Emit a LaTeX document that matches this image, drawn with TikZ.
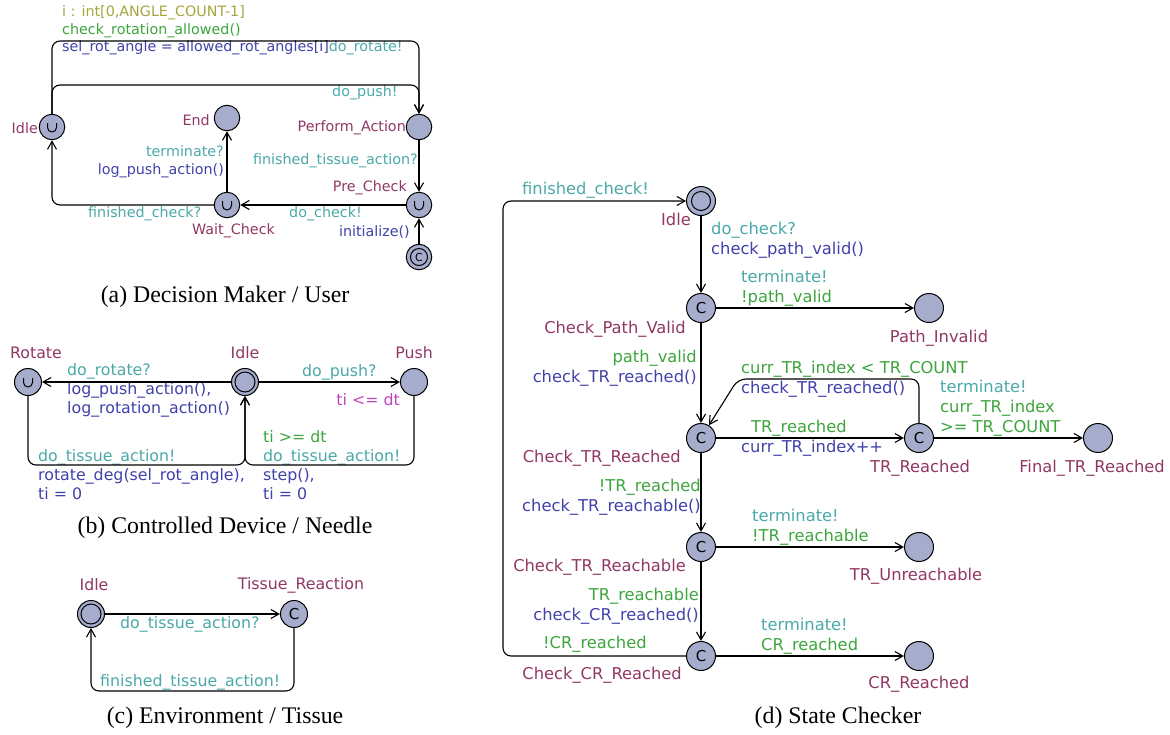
\documentclass[tikz,border=0pt]{standalone}
\usepackage{fontspec}
\setmainfont{Liberation Serif}
\newfontfamily\uppfont{DejaVu Sans}
\usetikzlibrary{arrows.meta}
\definecolor{locfill}{RGB}{165,172,204}
\definecolor{namecol}{RGB}{145,55,100}
\definecolor{synccol}{RGB}{75,168,168}
\definecolor{updcol}{RGB}{65,65,170}
\definecolor{guardcol}{RGB}{60,165,60}
\definecolor{selcol}{RGB}{165,165,60}
\definecolor{invcol}{RGB}{190,70,190}
\newcommand\lsync[1]{\textcolor{synccol}{#1}}
\newcommand\lupd[1]{\textcolor{updcol}{#1}}
\newcommand\lguard[1]{\textcolor{guardcol}{#1}}
\newcommand\lsel[1]{\textcolor{selcol}{#1}}
\newcommand\linv[1]{\textcolor{invcol}{#1}}
\tikzset{
  loc/.style={circle, draw, fill=locfill, line width=1pt, inner sep=0pt,
    font=\uppfont\fontsize{15}{15}\selectfont},
  sizeA/.style={minimum size=25.5pt},
  sizeB/.style={minimum size=27pt},
  sizeD/.style={minimum size=29pt},
  innerring/.style={path picture={\draw[line width=1pt]
    (path picture bounding box.center) circle (#1);}},
  innerring/.default=9pt,
  urgent/.style={path picture={\draw[line width=1pt]
    ([shift={(-4.5pt,4pt)}]path picture bounding box.center) -- ++(0pt,-4.5pt)
    arc (180:360:4.5pt) -- ++(0pt,4.5pt);}},
  lblA/.style={font=\uppfont\fontsize{14.3}{17.5}\selectfont, inner sep=0pt, align=left},
  lblB/.style={font=\uppfont\fontsize{15.8}{19}\selectfont, inner sep=0pt, align=left},
  lblD/.style={font=\uppfont\fontsize{16.3}{20}\selectfont, inner sep=0pt, align=left},
  locname/.style={text=namecol},
  capt/.style={font=\fontsize{23.8}{28}\selectfont, inner sep=0pt},
  trans/.style={-{Straight Barb[length=8pt,width=9pt]}, line width=1.1pt, rounded corners=8pt}
}
\begin{document}
\begin{tikzpicture}[x=1pt,y=-1pt]
  \useasboundingbox (0,0) rectangle (1170,734);
  % (a) decision maker
  \node[loc,sizeA,urgent] (aIdle) at (52,127) {};
  \node[loc,sizeA] (aEnd) at (227,118) {};
  \node[loc,sizeA] (aPA) at (419,127) {};
  \node[loc,sizeA,urgent] (aPC) at (419,205) {};
  \node[loc,sizeA,urgent] (aWC) at (227,205) {};
  \node[loc,sizeA,innerring=8.5pt,font=\uppfont\fontsize{11}{11}\selectfont] (aInit) at (419,257) {C};
  \node[lblA,locname,anchor=east] (aIdleN) at (38,128) {Idle};
  \node[lblA,locname,anchor=east] (aEndN) at (210,120) {End};
  \node[lblA,locname,anchor=east] (aPAN) at (406,128) {Perform\_Action};
  \node[lblA,locname,anchor=east] (aPCN) at (407,188) {Pre\_Check};
  \node[lblA,locname,anchor=west] (aWCN) at (192,231) {Wait\_Check};
  \node[lblA,anchor=west] (aL1) at (62,30.5) {\lsel{i : int[0,ANGLE\_COUNT-1]}\\\lguard{check\_rotation\_allowed()}\\\lupd{sel\_rot\_angle = allowed\_rot\_angles[i]}\lsync{do\_rotate!}};
  \node[lblA,anchor=west] (aL2) at (332,93) {\lsync{do\_push!}};
  \node[lblA,anchor=east] (aL3) at (418,161) {\lsync{finished\_tissue\_action?}};
  \node[lblA,anchor=east,align=right] (aL4) at (224,162) {\lsync{terminate?}\\\lupd{log\_push\_action()}};
  \node[lblA,anchor=west] (aL5) at (88,214) {\lsync{finished\_check?}};
  \node[lblA,anchor=west] (aL6) at (289,214) {\lsync{do\_check!}};
  \node[lblA,anchor=east] (aL7) at (410,232) {\lupd{initialize()}};
  \node[capt] (aCap) at (225,297) {(a) Decision Maker / User};
  \begin{scope}[trans]
    \draw (aIdle) -- (52,41) -- (419,41) -- (aPA);
    \draw (aIdle) -- (52,85) -- (419,85) -- (aPA);
    \draw (aPA) -- (aPC);
    \draw (aPC) -- (aWC);
    \draw (aWC) -- (aEnd);
    \draw (aWC) -- (52,205) -- (aIdle);
    \draw (aInit) -- (aPC);
  \end{scope}
  % (b) needle
  \node[loc,sizeB,urgent] (bRot) at (28,382) {};
  \node[loc,sizeB,innerring=10pt] (bIdle) at (245,382) {};
  \node[loc,sizeB] (bPush) at (414,382) {};
  \node[lblB,locname] (bRotN) at (36,353) {Rotate};
  \node[lblB,locname] (bIdleN) at (245,353) {Idle};
  \node[lblB,locname] (bPushN) at (414,353) {Push};
  \node[lblB,anchor=west] (bL1) at (67,390.5) {\lsync{do\_rotate?}\\\lupd{log\_push\_action(),}\\\lupd{log\_rotation\_action()}};
  \node[lblB,anchor=west] (bL2) at (302,372) {\lsync{do\_push?}};
  \node[lblB,anchor=east] (bL3) at (400,400) {\linv{ti <= dt}};
  \node[lblB,anchor=west] (bL4) at (38,474.5) {\lsync{do\_tissue\_action!}\\\lupd{rotate\_deg(sel\_rot\_angle),}\\\lupd{ti = 0}};
  \node[lblB,anchor=west] (bL5) at (263,465) {\lguard{ti >= dt}\\\lsync{do\_tissue\_action!}\\\lupd{step(),}\\\lupd{ti = 0}};
  \node[capt] (bCap) at (225,528) {(b) Controlled Device / Needle};
  \begin{scope}[trans]
    \draw (bIdle) -- (bRot);
    \draw (bIdle) -- (bPush);
    \draw (bRot) -- (28,465) -- (245,465) -- (bIdle);
    \draw (bPush) -- (414,465) -- (245,465) -- (bIdle);
  \end{scope}
  % (c) tissue
  \node[loc,sizeB,innerring=10pt] (cIdle) at (91,614) {};
  \node[loc,sizeB] (cTR) at (294,614) {C};
  \node[lblB,locname] (cIdleN) at (94,585) {Idle};
  \node[lblB,locname] (cTRN) at (301,585) {Tissue\_Reaction};
  \node[lblB,anchor=west] (cL1) at (120,624) {\lsync{do\_tissue\_action?}};
  \node[lblB,anchor=west] (cL2) at (100,682) {\lsync{finished\_tissue\_action!}};
  \node[capt] (cCap) at (225,718) {(c) Environment / Tissue};
  \begin{scope}[trans]
    \draw (cIdle) -- (cTR);
    \draw (cTR) -- (294,691) -- (91,691) -- (cIdle);
  \end{scope}
  % (d) state checker
  \node[loc,sizeD,innerring=9.5pt] (dIdle) at (701,201) {};
  \node[loc,sizeD] (dCPV) at (701,308) {C};
  \node[loc,sizeD] (dPI) at (929,308) {};
  \node[loc,sizeD] (dCTRR) at (701,438) {C};
  \node[loc,sizeD] (dTRR) at (919,438) {C};
  \node[loc,sizeD] (dFTR) at (1098,438) {};
  \node[loc,sizeD] (dCTRA) at (701,547) {C};
  \node[loc,sizeD] (dTRU) at (919,547) {};
  \node[loc,sizeD] (dCCR) at (701,656) {C};
  \node[loc,sizeD] (dCRR) at (919,656) {};
  \node[lblD,locname,anchor=east] (dIdleN) at (691,219) {Idle};
  \node[lblD,locname,anchor=east] (dCPVN) at (686,329) {Check\_Path\_Valid};
  \node[lblD,locname] (dPIN) at (939,338) {Path\_Invalid};
  \node[lblD,locname,anchor=east] (dCTRRN) at (681,458) {Check\_TR\_Reached};
  \node[lblD,locname] (dTRRN) at (920,468) {TR\_Reached};
  \node[lblD,locname] (dFTRN) at (1092,468) {Final\_TR\_Reached};
  \node[lblD,locname,anchor=east] (dCTRAN) at (686,567) {Check\_TR\_Reachable};
  \node[lblD,locname] (dTRUN) at (916,576) {TR\_Unreachable};
  \node[lblD,locname,anchor=east] (dCCRN) at (682,675) {Check\_CR\_Reached};
  \node[lblD,locname] (dCRRN) at (919,684) {CR\_Reached};
  \node[lblD,anchor=west] (dL1) at (522,190) {\lsync{finished\_check!}};
  \node[lblD,anchor=west] (dL2) at (711,240) {\lsync{do\_check?}\\\lupd{check\_path\_valid()}};
  \node[lblD,anchor=west] (dL3) at (741,288.5) {\lsync{terminate!}\\\lguard{!path\_valid}};
  \node[lblD,anchor=east,align=right] (dL4) at (697,368) {\lguard{path\_valid}\\\lupd{check\_TR\_reached()}};
  \node[lblD,anchor=west] (dL5) at (741,379) {\lguard{curr\_TR\_index < TR\_COUNT}\\\lupd{check\_TR\_reached()}};
  \node[lblD,anchor=west] (dL6) at (751,428) {\lguard{TR\_reached}};
  \node[lblD,anchor=west] (dL7) at (741,448) {\lupd{curr\_TR\_index++}};
  \node[lblD,anchor=west] (dL8) at (940,408) {\lsync{terminate!}\\\lguard{curr\_TR\_index}\\\lguard{>= TR\_COUNT}};
  \node[lblD,anchor=east,align=right] (dL9) at (701,497) {\lguard{!TR\_reached}\\\lupd{check\_TR\_reachable()}};
  \node[lblD,anchor=west] (dL10) at (752,527) {\lsync{terminate!}\\\lguard{!TR\_reachable}};
  \node[lblD,anchor=east,align=right] (dL11) at (699,606.5) {\lguard{TR\_reachable}\\\lupd{check\_CR\_reached()}};
  \node[lblD,anchor=west] (dL12) at (761,636.5) {\lsync{terminate!}\\\lguard{CR\_reached}};
  \node[lblD,anchor=west] (dL13) at (543,644) {\lguard{!CR\_reached}};
  \node[capt] (dCap) at (838,718) {(d) State Checker};
  \begin{scope}[trans]
    \draw (dIdle) -- (dCPV);
    \draw (dCPV) -- (dPI);
    \draw (dCPV) -- (dCTRR);
    \draw (dCTRR) -- (dTRR);
    \draw (dTRR) -- (919,379) -- (738,379) -- (dCTRR);
    \draw (dTRR) -- (dFTR);
    \draw (dCTRR) -- (dCTRA);
    \draw (dCTRA) -- (dTRU);
    \draw (dCTRA) -- (dCCR);
    \draw (dCCR) -- (dCRR);
    \draw (dCCR) -- (503,656) -- (503,201) -- (dIdle);
  \end{scope}
\end{tikzpicture}
\end{document}
